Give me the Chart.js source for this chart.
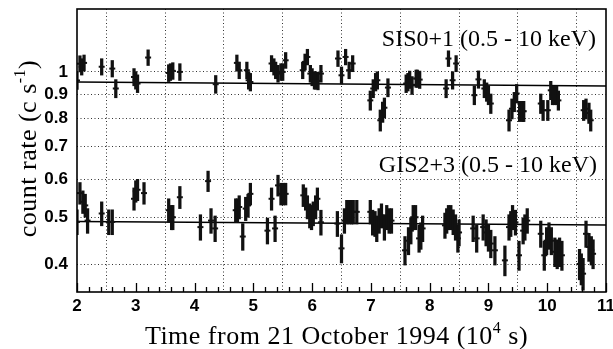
<!DOCTYPE html>
<html>
<head>
<meta charset="utf-8">
<script src="https://cdn.jsdelivr.net/npm/chart.js@4.4.1/dist/chart.umd.min.js"></script>
<style>
  html, body { margin: 0; padding: 0; background: #fff; }
</style>
</head>
<body>
<canvas id="lc" width="613" height="349"></canvas>
<script>
/* ASCA light curve: SIS0+1 and GIS2+3 count rates */

// SIS0+1 time bins (10^4 s) and count rates (c/s)
const SIS_T = [2.00, 2.05, 2.08, 2.12, 2.42, 2.60, 2.66, 2.97, 3.00, 3.03, 3.21, 3.56, 3.59, 3.63, 3.75,
  4.36, 4.72, 4.76, 4.89, 4.92, 4.95, 5.31, 5.35, 5.38, 5.42, 5.47, 5.50, 5.55, 5.84, 5.88, 5.92,
  5.97, 6.00, 6.04, 6.06, 6.10, 6.15, 6.44, 6.50, 6.57, 6.63, 6.69, 6.99, 7.04, 7.08, 7.11, 7.16,
  7.20, 7.23, 7.29, 7.60, 7.63, 7.66, 7.70, 7.77, 7.79, 7.83, 8.28, 8.32, 8.39, 8.45, 8.76, 8.83,
  8.93, 8.97, 9.00, 9.04, 9.35, 9.40, 9.44, 9.48, 9.53, 9.58, 9.60, 9.89, 9.93, 10.01, 10.06, 10.09,
  10.12, 10.16, 10.19, 10.62, 10.66, 10.71, 10.74];
const SIS_RATE = [0.960, 1.040, 1.025, 1.044, 1.025, 1.016, 0.924, 0.976, 0.961, 0.946, 1.071, 0.995, 1.000, 1.005, 1.000,
  0.943, 1.044, 1.008, 1.008, 0.961, 0.953, 1.041, 1.025, 1.008, 0.992, 1.000, 1.000, 1.057, 1.008, 1.049, 1.074,
  0.992, 0.976, 0.961, 0.961, 0.958, 0.992, 1.066, 0.984, 1.074, 1.008, 1.041, 0.873, 0.924, 0.953, 0.961, 0.794,
  0.826, 0.843, 0.928, 0.946, 0.953, 0.964, 0.938, 0.969, 0.969, 0.964, 0.924, 1.066, 0.961, 1.041, 0.895, 0.965,
  0.924, 0.909, 0.895, 0.860, 0.794, 0.839, 0.867, 0.902, 0.829, 0.829, 0.829, 0.860, 0.833, 0.833, 0.916, 0.895,
  0.895, 0.895, 0.873, 0.833, 0.839, 0.822, 0.794];

// GIS2+3 time bins and count rates
const GIS_T = [2.00, 2.05, 2.10, 2.14, 2.18, 2.42, 2.54, 2.60, 2.97, 3.00, 3.03, 3.14, 3.56, 3.61, 3.63, 3.75,
  4.10, 4.23, 4.28, 4.35, 4.70, 4.73, 4.76, 4.82, 4.87, 4.91, 4.95, 5.24, 5.31, 5.37, 5.42, 5.47, 5.51,
  5.55, 5.85, 5.89, 5.92, 5.96, 5.99, 6.02, 6.06, 6.09, 6.15, 6.43, 6.50, 6.55, 6.59, 6.63, 6.67, 6.70,
  6.76, 6.99, 7.03, 7.07, 7.10, 7.14, 7.18, 7.23, 7.27, 7.31, 7.35, 7.58, 7.64, 7.68, 7.72, 7.76, 7.82,
  7.85, 7.88, 8.26, 8.29, 8.32, 8.36, 8.40, 8.44, 8.48, 8.50, 8.74, 8.80, 8.91, 8.96, 9.00, 9.04, 9.11,
  9.28, 9.35, 9.38, 9.41, 9.46, 9.52, 9.59, 9.62, 9.66, 9.89, 9.95, 9.99, 10.03, 10.07, 10.13, 10.17,
  10.21, 10.25, 10.55, 10.58, 10.61, 10.66, 10.71, 10.75, 10.78];
const GIS_RATE = [0.489, 0.561, 0.538, 0.529, 0.492, 0.509, 0.489, 0.489, 0.546, 0.566, 0.570, 0.561, 0.517, 0.500, 0.500, 0.550,
  0.477, 0.594, 0.492, 0.474, 0.517, 0.517, 0.525, 0.456, 0.521, 0.529, 0.559, 0.469, 0.546, 0.474, 0.582, 0.559, 0.559,
  0.559, 0.555, 0.546, 0.525, 0.504, 0.500, 0.509, 0.525, 0.546, 0.488, 0.485, 0.431, 0.492, 0.513, 0.513, 0.513, 0.513,
  0.513, 0.513, 0.488, 0.485, 0.474, 0.492, 0.504, 0.477, 0.500, 0.492, 0.492, 0.427, 0.447, 0.469, 0.500, 0.500, 0.452,
  0.458, 0.474, 0.481, 0.492, 0.500, 0.500, 0.489, 0.477, 0.452, 0.465, 0.474, 0.452, 0.477, 0.465, 0.454, 0.441, 0.427,
  0.407, 0.477, 0.485, 0.500, 0.488, 0.417, 0.469, 0.477, 0.492, 0.462, 0.417, 0.447, 0.458, 0.447, 0.424, 0.420,
  0.424, 0.417, 0.400, 0.391, 0.382, 0.462, 0.434, 0.427, 0.420];

// 1-sigma errors (c/s)
const SIS_ERR = 0.040;
const GIS_ERR = 0.029;

// constant-ish fits drawn across the observation
const FIT_T = [2, 11];
const SIS_FIT = [0.953, 0.935];
const GIS_FIT = [0.490, 0.482];

const Y_TICKS = [0.4, 0.5, 0.6, 0.7, 0.8, 0.9, 1];
const X_MIN = 2, X_MAX = 11;
const Y_MIN = 0.35, Y_MAX = 1.35;

const SERIF = '"Liberation Serif", "Times New Roman", serif';
const SANS = '"Liberation Sans", Arial, sans-serif';

function errBars(t, r, e) {
  return t.map((x, i) => ({ x, y: [r[i] - e, r[i] + e] }));
}
function points(t, r) {
  return t.map((x, i) => ({ x, y: r[i] }));
}
function fitLine(vals) {
  return FIT_T.map((x, i) => ({ x, y: vals[i] }));
}

// draw a text made of [text, isSup] parts, centred on x
function drawParts(ctx, parts, x, y, size) {
  const widths = parts.map(([s, sup]) => {
    ctx.font = `${sup ? Math.round(size * 0.62) : size}px ${SERIF}`;
    return ctx.measureText(s).width;
  });
  let cx = x - widths.reduce((a, b) => a + b, 0) / 2;
  parts.forEach(([s, sup], i) => {
    ctx.font = `${sup ? Math.round(size * 0.62) : size}px ${SERIF}`;
    ctx.fillText(s, cx, sup ? y - size * 0.42 : y);
    cx += widths[i];
  });
}

const decor = {
  id: 'decor',
  afterDraw(chart) {
    const { ctx, chartArea: a, scales: { x } } = chart;
    ctx.save();
    ctx.strokeStyle = '#000';
    ctx.fillStyle = '#000';

    // inward ticks on bottom axis
    ctx.lineWidth = 1.3;
    for (let k = 0; k <= (X_MAX - X_MIN) * 5; k++) {
      const v = X_MIN + k / 5;
      const px = Math.round(x.getPixelForValue(v)) + 0.5;
      const len = k % 5 === 0 ? 9 : 5;
      ctx.beginPath();
      ctx.moveTo(px, a.bottom);
      ctx.lineTo(px, a.bottom - len);
      ctx.stroke();
    }

    // frame
    ctx.lineWidth = 1.6;
    ctx.strokeRect(a.left, a.top, a.right - a.left, a.bottom - a.top);

    ctx.textBaseline = 'alphabetic';
    ctx.textAlign = 'left';
    if ('letterSpacing' in ctx) ctx.letterSpacing = '0.5px';

    // x title
    drawParts(ctx, [['Time from 21 October 1994 (10', false], ['4', true], [' s)', false]],
      (a.left + a.right) / 2 - 5, 344, 26);

    // y title, rotated
    ctx.save();
    ctx.translate(36, (a.top + a.bottom) / 2 - 2);
    ctx.rotate(-Math.PI / 2);
    drawParts(ctx, [['count rate (c s', false], ['-1', true], [')', false]], 0, 0, 26);
    ctx.restore();

    // instrument labels
    if ('letterSpacing' in ctx) ctx.letterSpacing = '0px';
    ctx.font = `24px ${SERIF}`;
    ctx.textAlign = 'right';
    ctx.fillText('SIS0+1 (0.5 - 10 keV)', 596, 46);
    ctx.fillText('GIS2+3 (0.5 - 10 keV)', 597, 172);
    ctx.restore();
  }
};

const BLACK = '#111';

new Chart(document.getElementById('lc'), {
  type: 'scatter',
  data: {
    datasets: [
      { type: 'bar', data: errBars(SIS_T, SIS_RATE, SIS_ERR), backgroundColor: BLACK,
        barThickness: 2.6, grouped: false, borderWidth: 0 },
      { type: 'bar', data: errBars(GIS_T, GIS_RATE, GIS_ERR), backgroundColor: BLACK,
        barThickness: 2.6, grouped: false, borderWidth: 0 },
      { data: points(SIS_T, SIS_RATE), pointStyle: 'line', pointRadius: 3,
        borderColor: BLACK, pointBorderWidth: 2 },
      { data: points(GIS_T, GIS_RATE), pointStyle: 'line', pointRadius: 3,
        borderColor: BLACK, pointBorderWidth: 2 },
      { type: 'line', data: fitLine(SIS_FIT), borderColor: '#000', borderWidth: 1.5,
        pointRadius: 0, fill: false },
      { type: 'line', data: fitLine(GIS_FIT), borderColor: '#000', borderWidth: 1.5,
        pointRadius: 0, fill: false },
    ],
  },
  options: {
    responsive: false,
    animation: false,
    devicePixelRatio: 1,
    layout: { padding: { top: 9, right: 7, left: 0, bottom: 0 } },
    plugins: { legend: { display: false }, tooltip: { enabled: false } },
    scales: {
      x: {
        type: 'linear',
        min: X_MIN,
        max: X_MAX,
        offset: false,
        ticks: {
          stepSize: 1,
          color: '#000',
          padding: 4,
          maxRotation: 0,
          font: { family: SANS, size: 17, weight: 'bold' },
        },
        grid: { color: '#333', lineWidth: 1, drawTicks: false },
        border: { display: false, dash: [1, 2.5] },
        afterFit: (s) => { s.height = 57; s.paddingLeft = 0; s.paddingRight = 0; },
      },
      y: {
        type: 'logarithmic',
        min: Y_MIN,
        max: Y_MAX,
        afterBuildTicks: (s) => { s.ticks = Y_TICKS.map(v => ({ value: v })); },
        ticks: {
          autoSkip: false,
          color: '#000',
          padding: 9,
          callback: (v) => String(v),
          font: { family: SANS, size: 17, weight: 'bold' },
        },
        grid: { color: '#333', lineWidth: 1, drawTicks: false },
        border: { display: false, dash: [1, 2.5] },
        afterFit: (s) => { s.width = 77; s.paddingTop = 0; s.paddingBottom = 0; },
      },
    },
  },
  plugins: [decor],
});
</script>
</body>
</html>
